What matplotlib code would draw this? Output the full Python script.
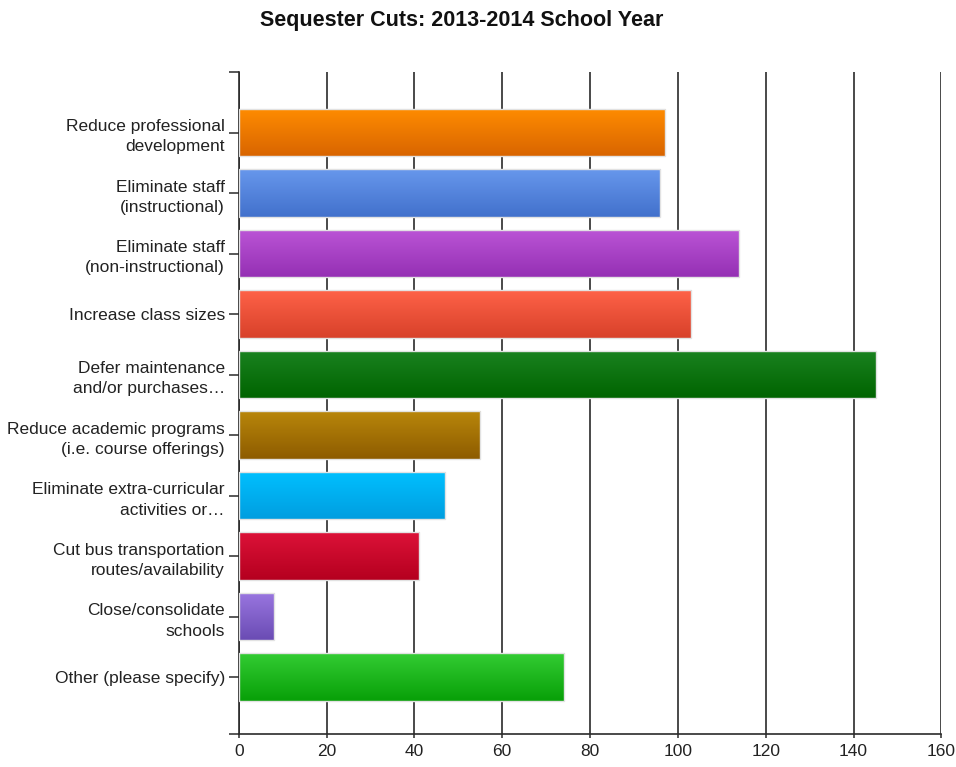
import matplotlib
matplotlib.use("Agg")
import matplotlib.pyplot as plt
import numpy as np
from matplotlib.colors import to_rgb

plt.rcParams["font.family"] = ["Liberation Sans", "DejaVu Sans"]

TITLE = "Sequester Cuts: 2013-2014 School Year"

categories = [
    "Reduce professional\ndevelopment",
    "Eliminate staff\n(instructional)",
    "Eliminate staff\n(non-instructional)",
    "Increase class sizes",
    "Defer maintenance\nand/or purchases…",
    "Reduce academic programs\n(i.e. course offerings)",
    "Eliminate extra-curricular\nactivities or…",
    "Cut bus transportation\nroutes/availability",
    "Close/consolidate\nschools",
    "Other (please specify)",
]
values = [97, 96, 114, 103, 145, 55, 47, 41, 8, 74]
x_ticks = [0, 20, 40, 60, 80, 100, 120, 140, 160]

# (top, bottom) gradient colours per bar
top_colors = ["#ff8c00", "#6797ec", "#bb55d6", "#fe6248", "#1a8220",
              "#b8860b", "#00c0ff", "#dc1238", "#9a76e0", "#33cc33"]
bot_colors = ["#d96500", "#4271cc", "#9530b4", "#d8412a", "#006400",
              "#8e5c00", "#009ee0", "#b5001f", "#6a4cb4", "#08a008"]

fig = plt.figure(figsize=(9.56, 7.67), dpi=100)
ax = fig.add_axes([0.2497, 0.0430, 0.7351, 0.8631])

ypos = np.arange(len(categories))
bar_h = 0.785
bars = ax.barh(ypos, values, height=bar_h, facecolor="none",
               edgecolor="#e2e2e2", linewidth=1.0, zorder=4)

for bar, c0, c1 in zip(bars, top_colors, bot_colors):
    a, b = np.array(to_rgb(c0)), np.array(to_rgb(c1))
    t = np.linspace(0, 1, 64)[:, None, None]
    grad = a * (1 - t) + b * t
    x0, y0 = bar.get_x(), bar.get_y()
    w, h = bar.get_width(), bar.get_height()
    im = ax.imshow(grad, extent=(x0, x0 + w, y0 + h, y0), aspect="auto",
                   interpolation="bilinear", zorder=3)
    im.set_clip_path(bar)

ax.set_xlim(0, 160)
ax.set_ylim(9.94, -1.0)
ax.set_xticks(x_ticks)
ax.set_xticklabels([str(v) for v in x_ticks], fontsize=12.5, color="#222222")
ax.set_yticks(ypos)
ax.set_yticklabels(categories, fontsize=12.5, color="#222222",
                   linespacing=1.45)
ax.set_yticks([-1.0, 9.94], minor=True)

ax.xaxis.grid(True, color="#2a2a2a", linewidth=1.2, zorder=1)
ax.set_axisbelow(True)
ax.tick_params(axis="y", which="both", length=7, width=1.1, color="#2a2a2a",
               direction="out", pad=3)
ax.tick_params(axis="x", length=3, width=1.1, color="#2a2a2a",
               direction="out", pad=4)

for side in ("top", "right"):
    ax.spines[side].set_visible(False)
for side in ("left", "bottom"):
    ax.spines[side].set_color("#2a2a2a")
    ax.spines[side].set_linewidth(1.2)

fig.text(0.4827, 0.973, TITLE, ha="center", va="center",
         fontsize=15.5, fontweight="bold", color="#111111")

fig.savefig("out.png", dpi=100)
